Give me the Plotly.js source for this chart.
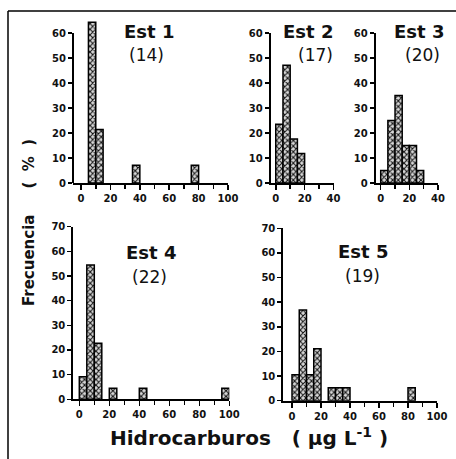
<!DOCTYPE html>
<html>
<head>
<meta charset="utf-8">
<script src="https://cdn.plot.ly/plotly-3.0.1.min.js"></script>
<style>
  html, body { margin: 0; padding: 0; background: #fff; }
  #chart { width: 456px; height: 459px; }
</style>
</head>
<body>
<div id="chart"></div>
<script>
// Lower edge of each 5 µg/L bin and the frequency (%) of samples in it, per station
const BIN_WIDTH = 5;

const est1Bins = [5, 10, 35, 75];
const est1Freq = [64.3, 21.4, 7.1, 7.1];

const est2Bins = [0, 5, 10, 15];
const est2Freq = [23.5, 47.1, 17.6, 11.8];

const est3Bins = [0, 5, 10, 15, 20, 25];
const est3Freq = [5, 25, 35, 15, 15, 5];

const est4Bins = [0, 5, 10, 20, 40, 95];
const est4Freq = [9.1, 54.5, 22.7, 4.5, 4.5, 4.5];

const est5Bins = [0, 5, 10, 15, 25, 30, 35, 80];
const est5Freq = [10.5, 36.8, 10.5, 21.1, 5.3, 5.3, 5.3, 5.3];

const stationNames = ['Est 1', 'Est 2', 'Est 3', 'Est 4', 'Est 5'];
const sampleCounts = ['(14)', '(17)', '(20)', '(22)', '(19)'];

const xTitle = 'Hidrocarburos\u00a0\u00a0\u00a0(\u00a0µg\u00a0L<sup>-1</sup>\u00a0)';
const yTitle = 'Frecuencia\u00a0\u00a0\u00a0\u00a0\u00a0(\u00a0\u00a0%\u00a0\u00a0)';

const W = 456, H = 459;
const px = x => x / W;
const py = y => 1 - y / H;

const tickFont = { family: 'DejaVu Sans', size: 10, color: '#111', weight: 'bold' };

function bars(bins, freq, n) {
  return {
    type: 'bar',
    x: bins,
    y: freq,
    width: BIN_WIDTH,
    offset: 0,
    xaxis: n === 1 ? 'x' : 'x' + n,
    yaxis: n === 1 ? 'y' : 'y' + n,
    hoverinfo: 'x+y',
    marker: {
      color: '#d0d0d0',
      line: { color: '#000', width: 1.5 },
      pattern: { shape: 'x', fgcolor: '#111', bgcolor: '#d8d8d8', size: 4, solidity: 0.45 }
    }
  };
}

function xAxis(domain, range, anchor) {
  return {
    domain: domain, range: range, anchor: anchor,
    showline: true, linecolor: '#000', linewidth: 2,
    ticks: 'outside', ticklen: 5, tickwidth: 1.5, tickcolor: '#000',
    tick0: 0, dtick: 20,
    minor: { ticks: 'outside', dtick: 10, tick0: 0, ticklen: 4, tickwidth: 1.5, tickcolor: '#000', showgrid: false },
    showgrid: false, zeroline: false, fixedrange: true,
    tickfont: tickFont
  };
}

function yAxis(domain, range, anchor, showline) {
  return {
    domain: domain, range: range, anchor: anchor,
    showline: showline, linecolor: '#000', linewidth: 2,
    ticks: 'outside', ticklen: 4, tickwidth: 1.5, tickcolor: '#000',
    tick0: 0, dtick: 10,
    showgrid: false, zeroline: false, fixedrange: true,
    tickfont: tickFont
  };
}

const data = [
  bars(est1Bins, est1Freq, 1),
  bars(est2Bins, est2Freq, 2),
  bars(est3Bins, est3Freq, 3),
  bars(est4Bins, est4Freq, 4),
  bars(est5Bins, est5Freq, 5)
];

const topRow = [py(183), py(33)];

const titlePos = [[149, 31], [308, 31], [419, 31], [151, 252], [363, 251]];
const countPos = [[146, 55], [315, 55], [422, 55], [149, 277], [362, 276]];

const annotations = [];
stationNames.forEach((name, i) => {
  annotations.push({
    xref: 'paper', yref: 'paper', x: px(titlePos[i][0]), y: py(titlePos[i][1]),
    text: name, showarrow: false, xanchor: 'center', yanchor: 'middle',
    font: { family: 'DejaVu Sans', size: 18, color: '#111', weight: 'bold' }
  });
  annotations.push({
    xref: 'paper', yref: 'paper', x: px(countPos[i][0]), y: py(countPos[i][1]),
    text: sampleCounts[i], showarrow: false, xanchor: 'center', yanchor: 'middle',
    font: { family: 'DejaVu Sans', size: 17, color: '#111' }
  });
});
annotations.push({
  xref: 'paper', yref: 'paper', x: px(249), y: py(437),
  text: xTitle, showarrow: false, xanchor: 'center', yanchor: 'middle',
  font: { family: 'DejaVu Sans', size: 20, color: '#111', weight: 'bold' }
});
annotations.push({
  xref: 'paper', yref: 'paper', x: px(29), y: py(223),
  text: yTitle, showarrow: false, textangle: -90, xanchor: 'center', yanchor: 'middle',
  font: { family: 'DejaVu Sans', size: 15, color: '#111', weight: 'bold' }
});

const layout = {
  width: W, height: H,
  margin: { l: 0, r: 0, t: 0, b: 0 },
  paper_bgcolor: '#fff', plot_bgcolor: 'rgba(0,0,0,0)',
  showlegend: false,
  bargap: 0,
  // Est 1 panel: plot area reaches above the 60 % tick so the tallest bar is not cut;
  // its axis line is drawn as a shape that stops at 60
  xaxis:  xAxis([px(73), px(228)], [-5.5, 100], 'y'),
  yaxis:  yAxis([py(183), py(18)], [0, 66], 'x', false),
  xaxis2: xAxis([px(270.7), px(333.5)], [-3.5, 40], 'y2'),
  yaxis2: yAxis(topRow, [0, 60], 'x2', true),
  xaxis3: xAxis([px(375.7), px(438)], [-3.5, 40], 'y3'),
  yaxis3: yAxis(topRow, [0, 60], 'x3', true),
  xaxis4: xAxis([px(73.3), px(229.3)], [-4, 100], 'y4'),
  yaxis4: yAxis([py(399.3), py(226.7)], [0, 70], 'x4', true),
  xaxis5: xAxis([px(283.3), px(437)], [-6, 100], 'y5'),
  yaxis5: yAxis([py(400.7), py(228.3)], [0, 70], 'x5', true),
  annotations: annotations,
  shapes: [
    // Est 1 y-axis line, 0 to 60 %
    { type: 'line', xref: 'x domain', yref: 'y', x0: 0, x1: 0, y0: 0, y1: 60, line: { color: '#000', width: 2 } },
    // outer frame (left and top edges)
    { type: 'line', xref: 'paper', yref: 'paper', x0: px(8), x1: px(8), y0: 0, y1: py(11), line: { color: '#000', width: 1.5 } },
    { type: 'line', xref: 'paper', yref: 'paper', x0: px(8), x1: 1, y0: py(11), y1: py(11), line: { color: '#000', width: 1.5 } }
  ]
};

Plotly.newPlot('chart', data, layout, { displayModeBar: false, staticPlot: true });
</script>
</body>
</html>
